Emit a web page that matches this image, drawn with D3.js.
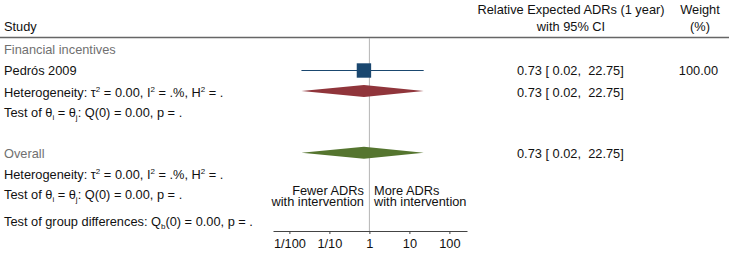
<!DOCTYPE html>
<html>
<head>
<meta charset="utf-8">
<script src="https://cdn.jsdelivr.net/npm/d3@7"></script>
<style>
body { margin: 0; background: #fff; }
svg text { font-family: "Liberation Sans", Arial, sans-serif; font-size: 12.8px; fill: #111; }
.grey { fill: #707070; }
</style>
</head>
<body>
<script>
// data
var groupName = "Financial incentives";
var studies = ["Pedrós 2009"];
var estimates = [0.73];
var lowers = [0.02];
var uppers = [22.75];
var weights = [100.00];
var groupEst = [0.73, 0.02, 22.75];
var overallEst = [0.73, 0.02, 22.75];
var tickValues = [0.01, 0.1, 1, 10, 100];
var tickLabels = ["1/100", "1/10", "1", "10", "100"];

var WIDTH = 729, HEIGHT = 259;
var fmt = d3.format(".2f");

var svg = d3.select("body").append("svg")
	.attr("width", WIDTH)
	.attr("height", HEIGHT);

var x = d3.scaleLog()
	.domain([Math.pow(10, -2.41), Math.pow(10, 2.44)])
	.range([273, 467]);

var ciText = function(e){
	return fmt(e[0]) + " [ " + fmt(e[1]) + ",  " + fmt(e[2]) + "]";
};

// header
svg.append("text").attr("x", 4).attr("y", 31).text("Study");
svg.append("text").attr("x", 571).attr("y", 14).attr("text-anchor", "middle").text("Relative Expected ADRs (1 year)");
svg.append("text").attr("x", 571).attr("y", 31).attr("text-anchor", "middle").text("with 95% CI");
svg.append("text").attr("x", 700).attr("y", 14).attr("text-anchor", "middle").text("Weight");
svg.append("text").attr("x", 700).attr("y", 31).attr("text-anchor", "middle").text("(%)");
svg.append("line").attr("x1", 0).attr("x2", WIDTH).attr("y1", 37.5).attr("y2", 37.5)
	.attr("stroke", "#666").attr("stroke-width", 1.3);

// no-effect line
svg.append("line").attr("x1", x(1)).attr("x2", x(1)).attr("y1", 38).attr("y2", 231)
	.attr("stroke", "#b4b4b4").attr("stroke-width", 1);

// stat lines with super/subscripts
var hetLine = function(y){
	var t = svg.append("text").attr("x", 4).attr("y", y);
	t.append("tspan").text("Heterogeneity: τ");
	t.append("tspan").attr("dy", -5).style("font-size", "8px").text("2");
	t.append("tspan").attr("dy", 5).text(" = 0.00, I");
	t.append("tspan").attr("dy", -5).style("font-size", "8px").text("2");
	t.append("tspan").attr("dy", 5).text(" = .%, H");
	t.append("tspan").attr("dy", -5).style("font-size", "8px").text("2");
	t.append("tspan").attr("dy", 5).text(" = .");
};
var testLine = function(y){
	var t = svg.append("text").attr("x", 4).attr("y", y);
	t.append("tspan").text("Test of θ");
	t.append("tspan").attr("dy", 2.5).style("font-size", "8px").text("i");
	t.append("tspan").attr("dy", -2.5).text(" = θ");
	t.append("tspan").attr("dy", 2.5).style("font-size", "8px").text("j");
	t.append("tspan").attr("dy", -2.5).text(": Q(0) = 0.00, p = .");
};

// group
svg.append("text").attr("class", "grey").attr("x", 4).attr("y", 54).text(groupName);

var rows = svg.append("g");
studies.forEach(function(s, i){
	var y = 75 + i * 21;
	rows.append("text").attr("x", 4).attr("y", y).text(s);
	rows.append("line")
		.attr("x1", x(lowers[i])).attr("x2", x(uppers[i]))
		.attr("y1", y - 4.5).attr("y2", y - 4.5)
		.attr("stroke", "#1a476f").attr("stroke-width", 1);
	rows.append("rect")
		.attr("x", x(estimates[i]) - 7.2).attr("y", y - 4.5 - 7.2)
		.attr("width", 14.4).attr("height", 14.4)
		.attr("fill", "#1a476f");
	rows.append("text").attr("x", 517).attr("y", y).attr("xml:space", "preserve")
		.text(ciText([estimates[i], lowers[i], uppers[i]]));
	rows.append("text").attr("x", 718).attr("y", y).attr("text-anchor", "end").text(fmt(weights[i]));
});

var diamond = function(e, cy, color){
	var pts = [[x(e[1]), cy], [x(e[0]), cy - 6], [x(e[2]), cy], [x(e[0]), cy + 6]];
	svg.append("path").attr("d", d3.line()(pts) + "Z").attr("fill", color);
};

diamond(groupEst, 91, "#90353b");
svg.append("text").attr("x", 517).attr("y", 96.7).attr("xml:space", "preserve").text(ciText(groupEst));
hetLine(96.7);
testLine(117);

svg.append("text").attr("class", "grey").attr("x", 4).attr("y", 157.7).text("Overall");
diamond(overallEst, 152.7, "#55752f");
svg.append("text").attr("x", 517).attr("y", 158).attr("xml:space", "preserve").text(ciText(overallEst));
hetLine(178.7);
testLine(199);

var g = svg.append("text").attr("x", 4).attr("y", 226);
g.append("tspan").text("Test of group differences: Q");
g.append("tspan").attr("dy", 2.5).style("font-size", "8px").text("b");
g.append("tspan").attr("dy", -2.5).text("(0) = 0.00, p = .");

// favours labels (two lines each side of the no-effect line)
var fav = function(anchor, xPos, lines){
	var t = svg.append("text").attr("x", xPos).attr("y", 194.5).attr("text-anchor", anchor);
	lines.forEach(function(l, i){
		t.append("tspan").attr("x", xPos).attr("dy", i ? 11 : 0).text(l);
	});
};
fav("end", 364, ["Fewer ADRs", "with intervention"]);
fav("start", 374, ["More ADRs", "with intervention"]);

// axis
var axis = svg.append("g").attr("transform", "translate(0,231)")
	.call(d3.axisBottom(x).tickValues(tickValues)
		.tickFormat(function(d, i){ return tickLabels[i]; })
		.tickSize(3).tickSizeOuter(0).tickPadding(5));
axis.select(".domain").attr("stroke", "#444");
axis.selectAll(".tick line").attr("stroke", "#444");
axis.selectAll("text").style("font-size", "12.8px").style("font-family", "Liberation Sans, Arial, sans-serif").attr("fill", "#111");
</script>
</body>
</html>
